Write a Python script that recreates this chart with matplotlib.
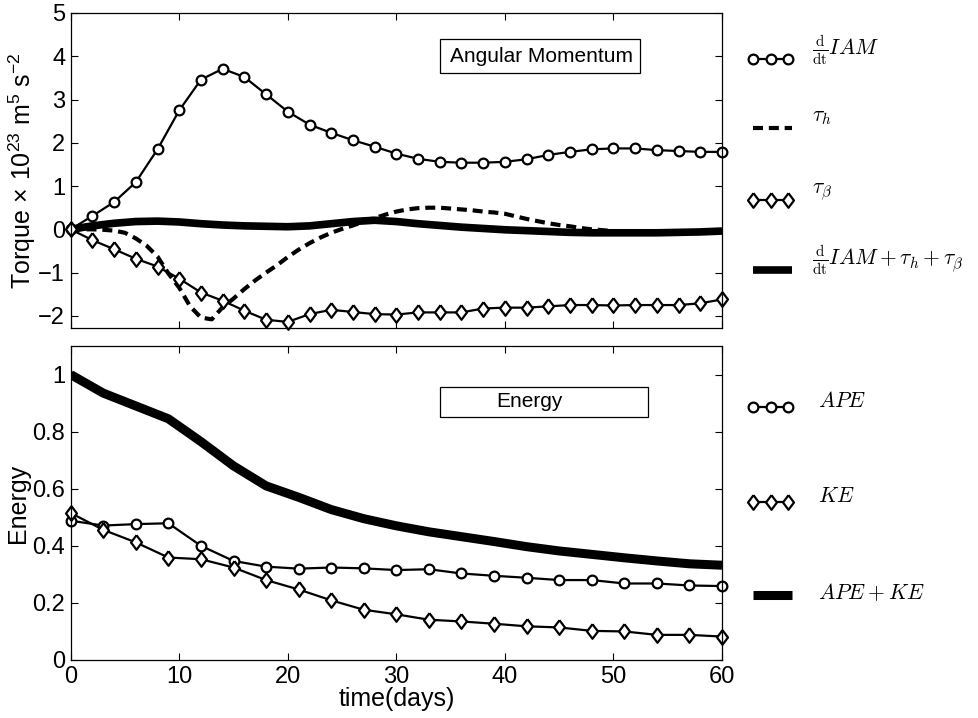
import matplotlib
matplotlib.use('Agg')
import matplotlib.pyplot as plt
from matplotlib.lines import Line2D
from matplotlib.patches import Rectangle

plt.rcParams['font.family'] = ['Liberation Sans', 'DejaVu Sans']
plt.rcParams['mathtext.fontset'] = 'custom'
plt.rcParams['mathtext.rm'] = 'Liberation Sans'
plt.rcParams['mathtext.it'] = 'Liberation Sans:italic'
plt.rcParams['mathtext.bf'] = 'Liberation Sans:bold'

# Torque budget, every 2 days
days_torque = list(range(0, 61, 2))
dIAM_dt = [0.0, 0.31, 0.63, 1.09, 1.85, 2.75, 3.46, 3.71, 3.52, 3.12, 2.72,
           2.42, 2.23, 2.06, 1.91, 1.75, 1.63, 1.56, 1.54, 1.54, 1.56,
           1.62, 1.72, 1.79, 1.85, 1.87, 1.87, 1.83, 1.81, 1.79, 1.79]
tau_beta = [0.0, -0.25, -0.46, -0.68, -0.86, -1.14, -1.46, -1.65, -1.88, -2.09, -2.14,
            -1.96, -1.86, -1.91, -1.96, -1.97, -1.92, -1.92, -1.92, -1.83, -1.81,
            -1.81, -1.78, -1.75, -1.75, -1.76, -1.75, -1.75, -1.75, -1.71, -1.62]
torque_sum = [0.0, 0.08, 0.14, 0.18, 0.19, 0.17, 0.13, 0.10, 0.08, 0.07, 0.06,
              0.08, 0.13, 0.18, 0.21, 0.18, 0.13, 0.09, 0.05, 0.02, -0.01,
              -0.03, -0.05, -0.07, -0.08, -0.08, -0.08, -0.08, -0.07, -0.06, -0.04]

# Mountain torque, daily
days_daily = list(range(0, 61))
tau_h = [0.0, 0.0, 0.0, -0.01, -0.03, -0.08, -0.21, -0.38, -0.63, -1.02,
         -1.35, -1.78, -2.04, -2.08, -1.80, -1.60, -1.38, -1.18, -1.00, -0.83,
         -0.64, -0.47, -0.32, -0.19, -0.08, 0.01, 0.09, 0.18, 0.26, 0.34,
         0.41, 0.46, 0.49, 0.50, 0.50, 0.48, 0.46, 0.44, 0.41, 0.39,
         0.36, 0.30, 0.24, 0.19, 0.14, 0.10, 0.07, 0.03, 0.00, -0.02,
         -0.04, -0.05, -0.06, -0.06, -0.06, -0.06, -0.05, -0.05, -0.04, -0.04,
         -0.03]

# Energy, every 3 days
days_energy = list(range(0, 61, 3))
ape = [0.488, 0.471, 0.476, 0.479, 0.400, 0.347, 0.327, 0.320, 0.324, 0.321, 0.315,
       0.318, 0.303, 0.295, 0.288, 0.280, 0.280, 0.268, 0.268, 0.261, 0.259]
ke = [0.515, 0.456, 0.412, 0.359, 0.353, 0.324, 0.280, 0.247, 0.209, 0.176, 0.160,
      0.141, 0.135, 0.127, 0.118, 0.114, 0.102, 0.100, 0.088, 0.088, 0.082]
ape_ke = [1.0, 0.935, 0.89, 0.845, 0.765, 0.68, 0.61, 0.57, 0.527, 0.495, 0.47,
          0.449, 0.432, 0.415, 0.397, 0.382, 0.37, 0.358, 0.347, 0.337, 0.332]

torque_labels = [r'$\frac{\mathrm{d}}{\mathrm{dt}}IAM$', r'$\tau_h$', r'$\tau_\beta$',
                 r'$\frac{\mathrm{d}}{\mathrm{dt}}IAM+\tau_h+\tau_\beta$']
energy_labels = [r'$APE$', r'$KE$', r'$APE+KE$']
energy_yticks = [0, 0.2, 0.4, 0.6, 0.8, 1.0]
energy_yticklabels = ['0', '0.2', '0.4', '0.6', '0.8', '1']

# diamond a bit narrower than a square
diamond_verts = [(0, 1), (0.75, 0), (0, -1), (-0.75, 0), (0, 1)]

circle = dict(color='black', lw=1.6, marker='o', ms=7, mfc='white', mec='black', mew=1.6)
diamond = dict(color='black', lw=1.6, marker=diamond_verts, ms=10.5, mfc='white', mec='black', mew=1.6)
dashed = dict(color='black', lw=3.0, dashes=(2.4, 1.4), dash_capstyle='butt')
thick_top = dict(color='black', lw=5.5, solid_capstyle='butt')
thick_bot = dict(color='black', lw=6.5, solid_capstyle='butt')


def style_axes(ax):
    ax.set_xlim(0, 60)
    ax.set_xticks(range(0, 61, 10))
    ax.tick_params(direction='in', top=True, right=True, length=5, width=0.8,
                   labelsize=17, pad=4)
    for spine in ax.spines.values():
        spine.set_linewidth(0.9)


def key_entry(ax, y, text_y, label, style, x_text, n_marks=3):
    # hand-drawn legend row to the right of the axes
    if n_marks == 3:
        xs = [1.0476, 1.0745, 1.1013]
    else:
        xs = [1.0476, 1.1075]
    ax.add_line(Line2D(xs, [y] * len(xs), transform=ax.transAxes, clip_on=False, **style))
    ax.text(x_text, text_y, label, transform=ax.transAxes, ha='left', va='center',
            fontsize=15.5, math_fontfamily='cm')


fig = plt.figure(figsize=(9.79, 7.18), dpi=100)
ax_top = fig.add_axes([0.0722, 0.5432, 0.6653, 0.4387])
ax_bot = fig.add_axes([0.0722, 0.0808, 0.6653, 0.4373])

# Angular momentum panel ########
ax_top.plot(days_daily, tau_h, **dashed)
ax_top.plot(days_torque, torque_sum, **thick_top)
ax_top.plot(days_torque, dIAM_dt, clip_on=False, **circle)
ax_top.plot(days_torque, tau_beta, clip_on=False, **diamond)
style_axes(ax_top)
ax_top.set_ylim(-2.28, 5)
ax_top.set_yticks(range(-2, 6))
ax_top.tick_params(labelbottom=False)
ax_top.set_ylabel(r'Torque$\,\times\,$10$^{23}$ m$^5$ s$^{-2}$', fontsize=18)
ax_top.yaxis.set_label_coords(-0.05, 0.5)

ax_top.add_patch(Rectangle((0.567, 0.810), 0.307, 0.107, transform=ax_top.transAxes,
                           fill=False, lw=0.9, ec='black'))
ax_top.text(0.583, 0.863, 'Angular Momentum', transform=ax_top.transAxes,
            ha='left', va='center', fontsize=15)

key_entry(ax_top, 0.854, 0.880, torque_labels[0], circle, 1.138)
key_entry(ax_top, 0.635, 0.670, torque_labels[1], dashed, 1.138, n_marks=2)
key_entry(ax_top, 0.406, 0.432, torque_labels[2], diamond, 1.138)
key_entry(ax_top, 0.184, 0.216, torque_labels[3], thick_top, 1.138, n_marks=2)

# Energy panel ########
ax_bot.plot(days_energy, ape_ke, **thick_bot)
ax_bot.plot(days_energy, ape, clip_on=False, **circle)
ax_bot.plot(days_energy, ke, clip_on=False, **diamond)
style_axes(ax_bot)
ax_bot.set_ylim(0, 1.1)
ax_bot.set_yticks(energy_yticks)
ax_bot.set_yticklabels(energy_yticklabels)
ax_bot.set_ylabel('Energy', fontsize=18)
ax_bot.yaxis.set_label_coords(-0.0625, 0.5)
ax_bot.set_xlabel('time(days)', fontsize=18)
ax_bot.xaxis.set_label_coords(0.5, -0.085)

ax_bot.add_patch(Rectangle((0.567, 0.775), 0.319, 0.093, transform=ax_bot.transAxes,
                           fill=False, lw=0.9, ec='black'))
ax_bot.text(0.705, 0.822, 'Energy', transform=ax_bot.transAxes,
            ha='center', va='center', fontsize=15)

key_entry(ax_bot, 0.805, 0.823, energy_labels[0], circle, 1.147)
key_entry(ax_bot, 0.504, 0.520, energy_labels[1], diamond, 1.147)
key_entry(ax_bot, 0.207, 0.213, energy_labels[2], thick_bot, 1.147, n_marks=2)

fig.savefig('out.png', dpi=100)
